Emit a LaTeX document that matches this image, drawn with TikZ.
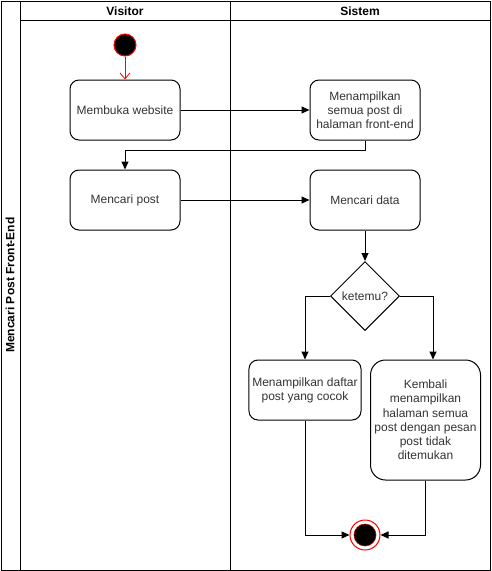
\documentclass[tikz,border=0pt]{standalone}
\usepackage{fontspec}
\setmainfont{Liberation Sans}
\usetikzlibrary{arrows.meta,shapes.geometric}

\begin{document}
\begin{tikzpicture}[x=1pt,y=-1pt,line width=1pt,
  act/.style={draw,rounded corners=9pt,minimum width=110pt,minimum height=60pt,
    align=center,text=black!80,font=\fontsize{12}{14.2}\selectfont},
  head/.style={font=\bfseries\fontsize{12}{14}\selectfont},
  flow/.style={-{Triangle[length=8pt,width=7pt]}}]
\useasboundingbox (0,0) rectangle (491,571);
%POOL AND LANES
\draw (1,1) rectangle (490,570);
\draw (20,1) -- (20,570);
\draw (20,20) -- (490,20);
\draw (230,1) -- (230,570);
\node[head,rotate=90] (pool) at (10,285) {Mencari Post Front-End};
\node[head] (visitor) at (125,11) {Visitor};
\node[head] (sistem) at (360,11) {Sistem};
%START AND END
\node[circle,fill=black,draw=red,minimum size=22pt,inner sep=0pt] (mulai) at (125,45) {};
\node[circle,draw=red,minimum size=30pt,inner sep=0pt] (selesai) at (365,535) {};
\node[circle,fill=black,draw=red!70!black,line width=0.6pt,minimum size=22pt,inner sep=0pt] (selesaiin) at (365,535) {};
%ACTIVITIES
\node[act] (membuka) at (125,110) {Membuka website};
\node[act] (tampil) at (365,110) {Menampilkan\\semua post di\\halaman front-end};
\node[act] (cari) at (125,200) {Mencari post};
\node[act] (caridata) at (365,200) {Mencari data};
\node[draw,diamond,aspect=1,minimum size=69pt,inner sep=0pt,text=black!80,
  font=\fontsize{12}{14}\selectfont] (ketemu) at (365,296) {ketemu?};
\node[act] (daftar) at (305,390) {Menampilkan daftar\\post yang cocok};
\node[act,rounded corners=15pt,minimum height=120pt] (kembali) at (425.5,420) {Kembali\\menampilkan\\halaman semua\\post dengan pesan\\post tidak\\ditemukan};
%FLOWS
\draw[red,line width=0.8pt,-{Straight Barb[length=6pt,width=10pt]}] (mulai) -- (membuka);
\draw[flow] (membuka) -- (tampil);
\draw[flow] (tampil.south) -- ++(0,10) -| (cari.north);
\draw[flow] (cari) -- (caridata);
\draw[flow] (caridata) -- (ketemu);
\draw[flow] (ketemu.west) -| (daftar.north);
\draw[flow] (ketemu.east) -| ([xshift=7.5pt]kembali.north);
\draw[flow] (daftar.south) |- (selesai.west);
\draw[flow] (kembali.south) |- (selesai.east);
\end{tikzpicture}
\end{document}
